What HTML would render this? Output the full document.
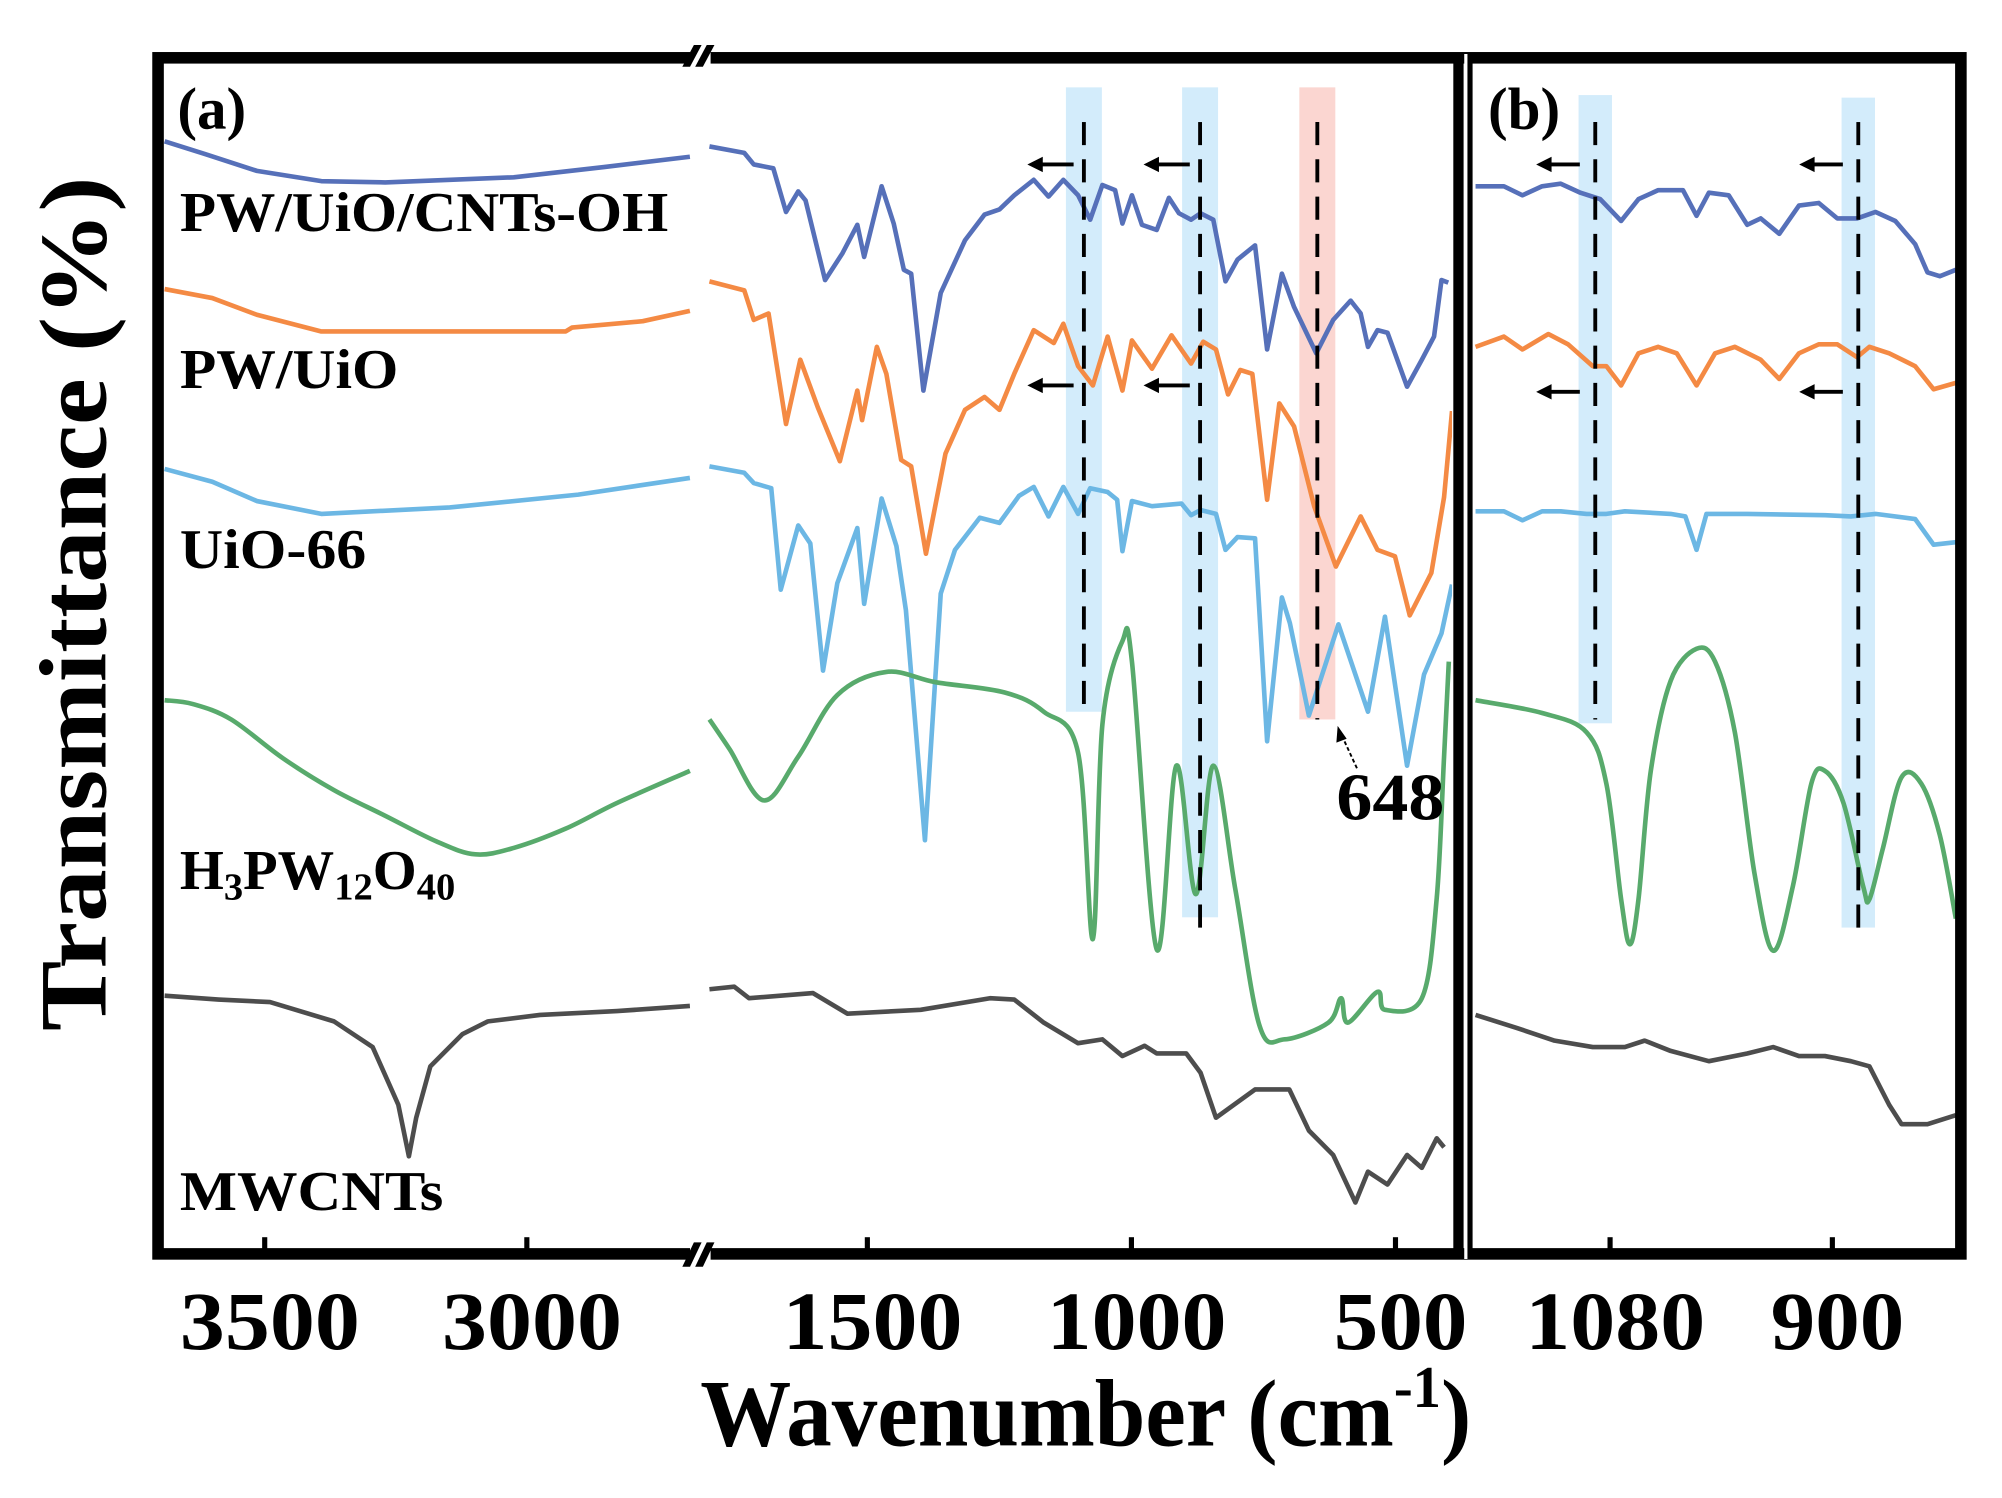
<!DOCTYPE html>
<html><head><meta charset="utf-8"><style>
html,body{margin:0;padding:0;background:#fff;}
svg{display:block;}
text{font-family:"Liberation Serif",serif;font-weight:bold;fill:#000;}
</style></head><body>
<svg id="chart" width="2002" height="1498" viewBox="0 0 1558 1166" preserveAspectRatio="none" xmlns="http://www.w3.org/2000/svg">
<defs>
<clipPath id="clipL"><rect x="124" y="46" width="416" height="928"/></clipPath>
<clipPath id="clipR"><rect x="550" y="46" width="580" height="928"/></clipPath>
<clipPath id="clipB"><rect x="1146" y="46" width="378" height="928"/></clipPath>
</defs>
<g id="bands"></g>
<g id="series"></g>
<g id="marks"></g>
<g fill="none" stroke="#000">
<rect x="123" y="45" width="1403" height="931" stroke-width="9"/>
<line x1="1135" y1="42" x2="1135" y2="980" stroke-width="8"/>
<line x1="1141" y1="42" x2="1141" y2="980" stroke="#fff" stroke-width="3"/>
<line x1="1144" y1="42" x2="1144" y2="980" stroke-width="4"/>
</g>
<g>
<rect x="537" y="38" width="16" height="14" fill="#fff"/>
<polygon points="531,52 537,52 546,35 540,35" fill="#000"/>
<polygon points="541,52 547,52 556,35 550,35" fill="#000"/>
</g>
<g>
<rect x="537" y="969" width="16" height="14" fill="#fff"/>
<polygon points="531,986 537,986 546,967 540,967" fill="#000"/>
<polygon points="541,986 547,986 556,967 550,967" fill="#000"/>
</g>
<g id="ticks"></g>
<text x="138" y="100" font-size="46">(a)</text>
<text x="1158" y="100" font-size="46">(b)</text>
<text x="140" y="180" font-size="44" textLength="380" lengthAdjust="spacingAndGlyphs">PW/UiO/CNTs-OH</text>
<text x="140" y="302" font-size="44" textLength="170" lengthAdjust="spacingAndGlyphs">PW/UiO</text>
<text x="140" y="442" font-size="44" textLength="145" lengthAdjust="spacingAndGlyphs">UiO-66</text>
<text x="140" y="692" font-size="44">H<tspan font-size="30" dy="8">3</tspan><tspan dy="-8">PW</tspan><tspan font-size="30" dy="8">12</tspan><tspan dy="-8">O</tspan><tspan font-size="30" dy="8">40</tspan></text>
<text x="140" y="942" font-size="44" textLength="205" lengthAdjust="spacingAndGlyphs">MWCNTs</text>
<text x="1040" y="638" font-size="52" textLength="84" lengthAdjust="spacingAndGlyphs">648</text>
<g>
<line x1="1056" y1="598" x2="1044" y2="572" stroke="#000" stroke-width="1.5" stroke-dasharray="3,2"/>
<polygon points="1041,565 1040,578 1048,575" fill="#000"/>
</g>
<text x="845" y="1125" font-size="74" text-anchor="middle" textLength="600" lengthAdjust="spacingAndGlyphs">Wavenumber (cm<tspan font-size="46" dy="-30">-1</tspan><tspan dy="30">)</tspan></text>
<text transform="translate(82,470) rotate(-90)" font-size="74" text-anchor="middle" textLength="665" lengthAdjust="spacingAndGlyphs">Transmittance (%)</text>
</svg>
<script>
function xL(w){return 206+(3500-w)*0.408;}
function xR(w){return 675+(1500-w)*0.411;}
function xB(w){return 1253+(1080-w)*0.961;}
function yT(t){return 1000-t;}

const ticksL=[3500,3000];
const ticksR=[1500,1000,500];
const ticksB=[1080,900];
const tickLabelsL=["3500","3000"];
const tickLabelsR=["1500","1000","500"];
const tickLabelsB=["1080","900"];

const blueL=[[3691,890],[3613,880],[3515,867],[3392,859],[3270,858],[3025,862],[2853,870],[2689,878]];
const blueR=[[1799,886],[1733,881],[1715,872],[1678,869],[1654,835],[1631,851],[1617,844],[1580,782],[1547,803],[1519,825],[1506,800],[1473,855],[1450,826],[1431,790],[1417,787],[1394,696],[1361,772],[1315,813],[1278,833],[1250,837],[1222,848],[1185,860],[1157,847],[1129,860],[1101,848],[1078,829],[1055,856],[1031,852],[1017,826],[999,848],[980,825],[952,821],[929,846],[910,834],[887,829],[869,834],[845,829],[822,781],[799,798],[766,809],[743,728],[715,787],[692,761],[650,725],[618,751],[585,766],[566,756],[552,730],[534,743],[515,741],[478,699],[450,720],[427,738],[413,782],[400,780]];
const blueB=[[1189,855],[1166,855],[1151,848],[1135,855],[1120,857],[1104,850],[1088,845],[1071,828],[1057,845],[1041,852],[1021,852],[1010,832],[1000,850],[984,848],[969,825],[958,830],[943,818],[927,840],[911,842],[896,830],[880,830],[865,835],[849,828],[833,810],[823,788],[813,785],[800,790]];

const orangeL=[[3691,775],[3600,768],[3515,755],[3392,742],[3147,742],[2926,742],[2914,745],[2779,750],[2689,758]];
const orangeR=[[1799,781],[1733,774],[1715,751],[1687,756],[1654,670],[1627,720],[1594,683],[1552,641],[1519,696],[1510,673],[1482,730],[1464,709],[1436,642],[1417,637],[1389,569],[1352,647],[1315,681],[1278,691],[1250,681],[1222,709],[1185,743],[1147,733],[1129,748],[1101,715],[1073,700],[1045,738],[1017,696],[999,735],[961,713],[924,739],[887,717],[864,734],[840,728],[817,693],[794,712],[771,709],[743,611],[720,686],[692,668],[654,606],[613,559],[566,598],[534,572],[501,567],[473,521],[432,554],[408,613],[393,680]];
const orangeB=[[1189,730],[1166,738],[1151,728],[1130,740],[1114,732],[1094,715],[1083,715],[1071,700],[1057,725],[1041,730],[1026,725],[1010,700],[995,725],[979,730],[958,720],[943,705],[927,725],[911,732],[896,732],[880,722],[870,730],[854,725],[833,715],[818,697],[800,702]];

const lblueL=[[3691,635],[3600,625],[3515,610],[3392,600],[3147,605],[2902,615],[2689,628]];
const lblueR=[[1799,637],[1733,632],[1715,624],[1682,620],[1664,541],[1631,591],[1608,577],[1584,478],[1557,546],[1519,589],[1506,530],[1473,612],[1445,575],[1427,525],[1391,346],[1361,538],[1334,572],[1287,597],[1250,593],[1213,614],[1185,621],[1157,598],[1129,621],[1101,600],[1078,620],[1045,617],[1027,611],[1017,571],[999,610],[961,606],[905,608],[887,599],[869,603],[840,600],[822,572],[799,582],[766,581],[743,423],[715,535],[700,515],[664,443],[608,514],[552,446],[520,520],[478,404],[446,475],[413,507],[393,545]];
const lblueB=[[1189,602],[1166,602],[1151,595],[1135,602],[1120,602],[1099,600],[1083,600],[1068,602],[1031,600],[1019,598],[1010,572],[1002,600],[969,600],[906,599],[885,598],[865,600],[833,596],[818,576],[800,578]];

const greenL=[[3691,455],[3637,452],[3564,440],[3466,410],[3368,385],[3270,365],[3172,345],[3098,335],[3025,340],[2926,355],[2828,375],[2689,400]];
const greenR=[[1799,440],[1761,417],[1696,377],[1631,411],[1557,459],[1464,477],[1371,469],[1240,461],[1166,446],[1101,414],[1073,269],[1055,436],[1017,501],[999,485],[952,261],[915,404],[878,304],[845,404],[803,307],[757,201],[710,191],[627,204],[603,223],[590,204],[534,228],[520,214],[450,223],[422,301],[408,411],[399,485]];
const greenB=[[1189,455],[1135,445],[1099,430],[1083,390],[1071,300],[1064,265],[1057,300],[1047,400],[1031,470],[1010,495],[995,485],[979,430],[963,320],[948,260],[932,310],[917,390],[906,400],[891,375],[875,310],[870,300],[859,340],[844,395],[828,390],[813,350],[800,285]];

const greyL=[[3691,225],[3588,222],[3490,220],[3368,205],[3294,185],[3245,140],[3225,100],[3211,130],[3184,170],[3123,195],[3074,205],[2975,210],[2828,213],[2689,217]];
const greyR=[[1799,230],[1752,232],[1724,223],[1603,227],[1538,211],[1399,214],[1268,223],[1222,222],[1166,204],[1101,188],[1055,191],[1017,178],[975,186],[952,180],[896,180],[869,165],[840,130],[766,152],[701,152],[664,120],[618,101],[576,64],[552,88],[515,78],[478,101],[450,91],[422,114],[408,107]];
const greyB=[[1189,210],[1156,200],[1125,190],[1094,185],[1068,185],[1052,190],[1031,182],[1000,174],[969,180],[948,185],[927,178],[906,178],[885,174],[870,170],[854,140],[844,125],[823,125],[800,132]];

const bandsR=[1090,870];
const pinkR=[648];
const bandsB=[1092,879];

const NS="http://www.w3.org/2000/svg";
const gBands=document.getElementById('bands');
const gSeries=document.getElementById('series');
const gMarks=document.getElementById('marks');
const gTicks=document.getElementById('ticks');

function mk(tag,attrs,parent){const e=document.createElementNS(NS,tag);for(const k in attrs)e.setAttribute(k,attrs[k]);parent.appendChild(e);return e;}

function linePath(data,xf){return data.map((p,i)=>(i?'L':'M')+xf(p[0]).toFixed(1)+','+yT(p[1]).toFixed(1)).join('');}
function smoothPath(data,xf){
  const pts=data.map(p=>[xf(p[0]),yT(p[1])]);
  let d='M'+pts[0][0].toFixed(1)+','+pts[0][1].toFixed(1);
  for(let i=0;i<pts.length-1;i++){
    const p0=pts[i-1]||pts[i],p1=pts[i],p2=pts[i+1],p3=pts[i+2]||p2;
    const c1=[p1[0]+(p2[0]-p0[0])/6,p1[1]+(p2[1]-p0[1])/6];
    const c2=[p2[0]-(p3[0]-p1[0])/6,p2[1]-(p3[1]-p1[1])/6];
    d+='C'+c1[0].toFixed(1)+','+c1[1].toFixed(1)+' '+c2[0].toFixed(1)+','+c2[1].toFixed(1)+' '+p2[0].toFixed(1)+','+p2[1].toFixed(1);
  }
  return d;
}

bandsR.forEach((w,i)=>{
  const el=mk('rect',{x:xR(w)-14,y:68,width:28,height:(i===0?486:646),fill:'#d3ecfb'},gBands);
  
  
  const dl=mk('line',{x1:xR(w),y1:95,x2:xR(w),y2:(i===0?556:722),stroke:'#000','stroke-width':3,'stroke-dasharray':'18,11'},gMarks);
  
  
  [0,1].forEach(r=>{
    const yy=r===0?128:300;
    const ax=xR(w)-8;
    const a=mk('g',{},gMarks);
    
    
    mk('line',{x1:ax,y1:yy,x2:ax-26,y2:yy,stroke:'#000','stroke-width':3},a);
    mk('polygon',{points:(ax-36)+','+yy+' '+(ax-24)+','+(yy-6)+' '+(ax-24)+','+(yy+6),fill:'#000'},a);
  });
});
pinkR.forEach(w=>{
  const el=mk('rect',{x:xR(w)-14,y:68,width:28,height:492,fill:'#fbd6d1'},gBands);
  
  
  const dl=mk('line',{x1:xR(w),y1:95,x2:xR(w),y2:560,stroke:'#000','stroke-width':3,'stroke-dasharray':'18,11'},gMarks);
  
  
});
bandsB.forEach((w,i)=>{
  const el=mk('rect',{x:xB(w)-13,y:(i===0?74:76),width:26,height:(i===0?489:646),fill:'#d3ecfb'},gBands);
  
  
  const dl=mk('line',{x1:xB(w),y1:95,x2:xB(w),y2:(i===0?560:722),stroke:'#000','stroke-width':3,'stroke-dasharray':'18,11'},gMarks);
  
  
  [0,1].forEach(r=>{
    const yy=r===0?128:305;
    const ax=xB(w)-12;
    const a=mk('g',{},gMarks);
    
    
    mk('line',{x1:ax,y1:yy,x2:ax-24,y2:yy,stroke:'#000','stroke-width':3},a);
    mk('polygon',{points:(ax-34)+','+yy+' '+(ax-22)+','+(yy-6)+' '+(ax-22)+','+(yy+6),fill:'#000'},a);
  });
});

const series=[
  {name:'pw-uio-cnts-oh',color:'#5670b9',L:blueL,R:blueR,B:blueB,smooth:false},
  {name:'pw-uio',color:'#f48a44',L:orangeL,R:orangeR,B:orangeB,smooth:false},
  {name:'uio-66',color:'#6cb7e4',L:lblueL,R:lblueR,B:lblueB,smooth:false},
  {name:'h3pw12o40',color:'#58aa6c',L:greenL,R:greenR,B:greenB,smooth:true},
  {name:'mwcnts',color:'#4d4d4d',L:greyL,R:greyR,B:greyB,smooth:false}
];
series.forEach(s=>{
  [['L',xL,'clipL'],['R',xR,'clipR'],['B',xB,'clipB']].forEach(([k,xf,clip])=>{
    const d=s.smooth?smoothPath(s[k],xf):linePath(s[k],xf);
    const p=mk('path',{d:d,fill:'none',stroke:s.color,'stroke-width':3.6,'stroke-linejoin':'round','clip-path':'url(#'+clip+')'},gSeries);
    
    
  });
});

function addTicks(vals,labels,xf){
  vals.forEach((v,i)=>{
    const x=xf(v);
    const t=mk('line',{x1:x,y1:972,x2:x,y2:963,stroke:'#000','stroke-width':4},gTicks);
    
    
    const w=labels[i].length===4?140:104;
    const lb=mk('text',{x:x+4,y:1050,'font-size':64,'text-anchor':'middle',textLength:w,lengthAdjust:'spacingAndGlyphs'},gTicks);
    lb.textContent=labels[i];
    
    
  });
}
addTicks(ticksL,tickLabelsL,xL);
addTicks(ticksR,tickLabelsR,xR);
addTicks(ticksB,tickLabelsB,xB);
</script>
</body></html>
